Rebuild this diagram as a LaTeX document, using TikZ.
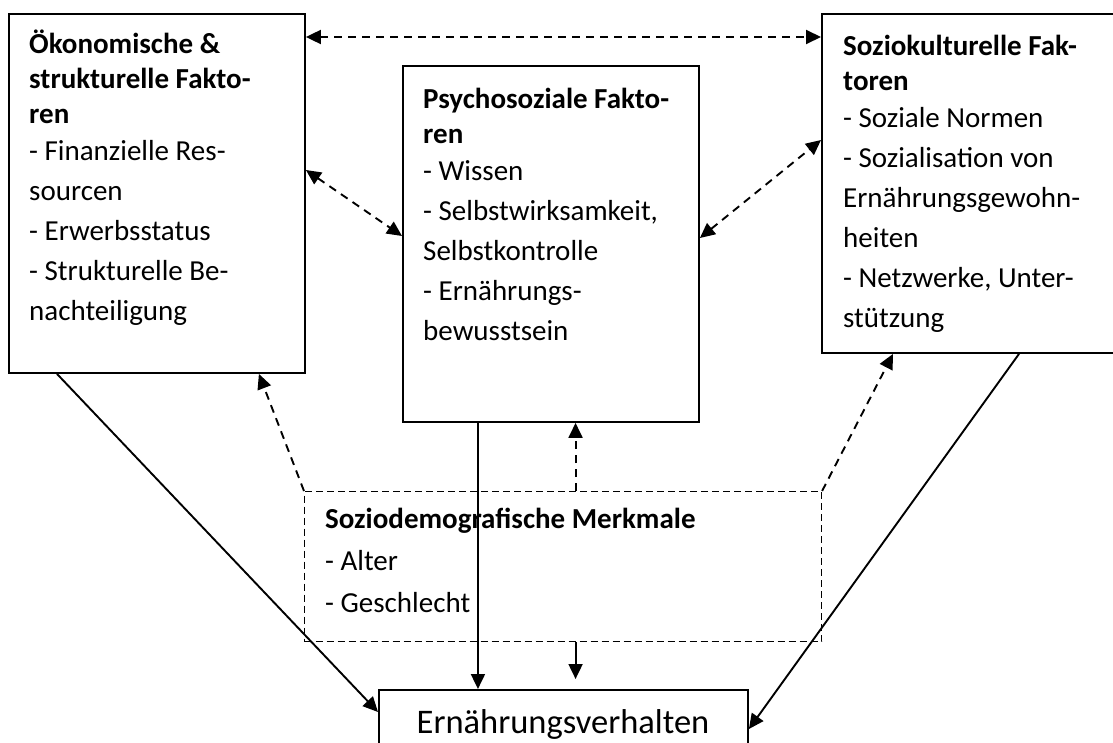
\documentclass[tikz,border=0pt]{standalone}
\usepackage{fontspec}
\setmainfont{Carlito}
\usetikzlibrary{arrows.meta}

\newcommand{\boxfont}{\fontsize{29pt}{40pt}\selectfont}
\newcommand{\bigboxfont}{\fontsize{34.5pt}{40pt}\selectfont}

\begin{document}
\begin{tikzpicture}[x=1pt, y=-1pt,
    factor/.style={draw, line width=1.9pt, inner sep=0pt, anchor=north west},
    demobox/.style={draw, line width=1.1pt, dash pattern=on 7pt off 4pt, inner sep=0pt, anchor=north west},
    boxtext/.style={anchor=base west, inner sep=0pt, font=\boxfont},
    effect/.style={line width=1.9pt, -{Triangle[length=15pt,width=14pt]}},
    mutual/.style={line width=1.9pt, dash pattern=on 8pt off 6pt, {Triangle[length=15pt,width=14pt]}-{Triangle[length=15pt,width=14pt]}},
    influence/.style={line width=1.9pt, dash pattern=on 8pt off 6pt, -{Triangle[length=15pt,width=14pt]}}]
  \useasboundingbox (0,0) rectangle (1113,742);
  \clip (0,0) rectangle (1113,742);

  % Faktoren (boxes)
  \node[factor, minimum width=296pt, minimum height=359pt] (oek) at (8,13) {};
  \node[factor, minimum width=296pt, minimum height=356pt] (psy) at (402,65) {};
  \node[factor, minimum width=300pt, minimum height=339pt] (soz) at (821,13) {};
  \node[demobox, minimum width=517pt, minimum height=150pt] (demo) at (304,491) {};
  \node[factor, minimum width=369pt, minimum height=80pt] (ver) at (378,689) {};

  % box texts
  \node[boxtext] (oektxt) at (29,53) {\parbox[t]{270pt}{\raggedright
    \textbf{Ökonomische \&}\\[-5pt]\textbf{strukturelle Fakto-}\\[-5pt]\textbf{ren}\\[-3pt]
    - Finanzielle Res-\\sourcen\\- Erwerbsstatus\\- Strukturelle Be-\\nachteiligung}};
  \node[boxtext] (psytxt) at (423,108) {\parbox[t]{270pt}{\raggedright
    \textbf{Psychosoziale Fakto-}\\[-5pt]\textbf{ren}\\[-3pt]
    - Wissen\\- Selbstwirksamkeit,\\Selbstkontrolle\\- Ernährungs-\\bewusstsein}};
  \node[boxtext] (soztxt) at (843,55) {\parbox[t]{265pt}{\raggedright
    \textbf{Soziokulturelle Fak-}\\[-5pt]\textbf{toren}\\[-3pt]
    - Soziale Normen\\- Sozialisation von\\Ernährungsgewohn-\\heiten\\- Netzwerke, Unter-\\stützung}};
  \node[boxtext] (demotxt) at (325,528) {\parbox[t]{480pt}{\raggedright
    \textbf{Soziodemografische Merkmale}\\[2pt]- Alter\\[2pt]- Geschlecht}};
  \node[anchor=base, inner sep=0pt, font=\bigboxfont] (vertxt) at (563,733) {Ernährungsverhalten};

  % Wechselwirkungen
  \draw[mutual] ([yshift=-24pt]oek.north east) -- ([yshift=-24pt]soz.north west);
  \draw[mutual] ([yshift=-157pt]oek.north east) -- ([yshift=-171pt]psy.north west);
  \draw[mutual] ([yshift=-173pt]psy.north east) -- ([yshift=-127pt]soz.north west);

  % Soziodemografie wirkt auf die Faktoren
  \draw[influence] (demo.north west) -- ([xshift=-47pt]oek.south east);
  \draw[influence] (demo.north east) -- ([xshift=72pt]soz.south west);
  \draw[influence] ([xshift=12.5pt]demo.north) -- ([xshift=12.5pt]demo.north |- psy.south);

  % Wirkung auf das Ernaehrungsverhalten
  \draw[effect] ([xshift=49pt]oek.south west) -- ([yshift=-23pt]ver.north west);
  \draw[effect] ([xshift=-73pt]psy.south) -- ([xshift=-73pt]psy.south |- ver.north);
  \draw[effect, shorten >=10pt] ([xshift=12.5pt]demo.south) -- ([xshift=12.5pt]demo.south |- ver.north);
  \draw[effect] ([xshift=198pt]soz.south west) -- ([yshift=-40pt]ver.north east);
\end{tikzpicture}
\end{document}
